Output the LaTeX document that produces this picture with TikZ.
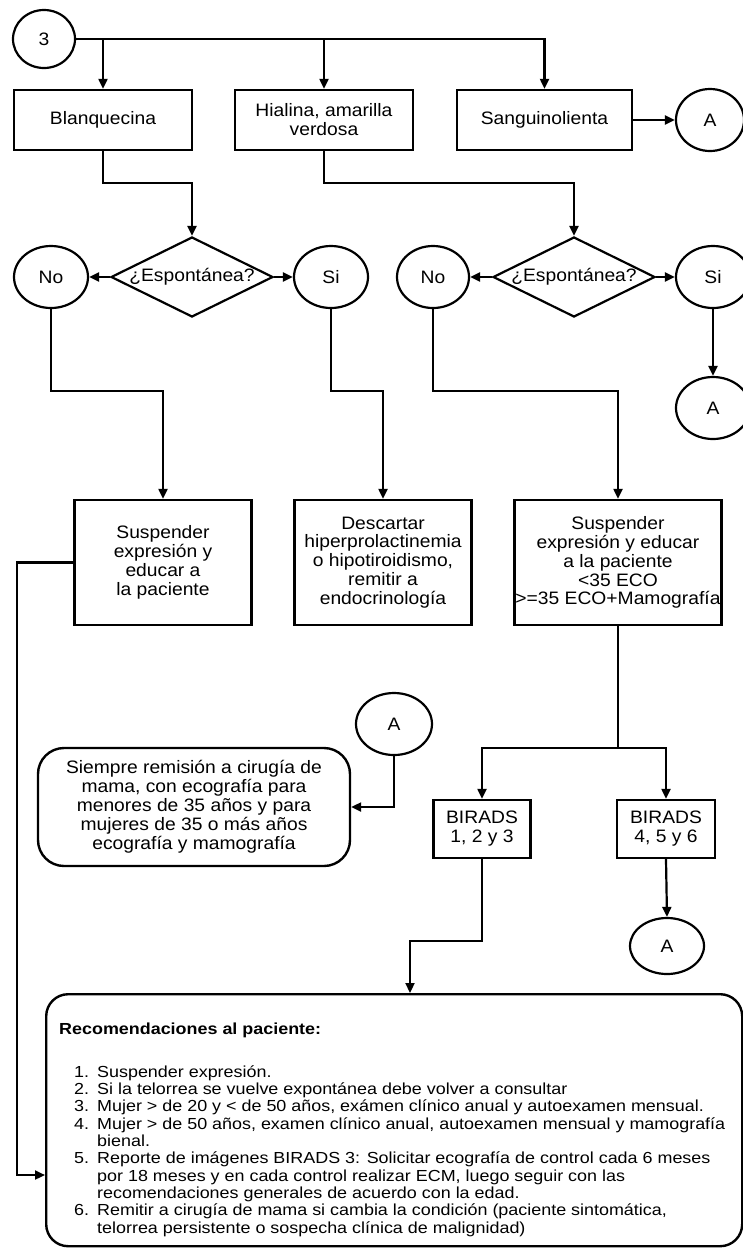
\documentclass[tikz,border=0pt]{standalone}
\usepackage{fontspec}
\setmainfont{Liberation Sans}[FakeStretch=1.07]
\newfontfamily\listfont{Liberation Sans}[FakeStretch=1.12]
\usetikzlibrary{shapes.geometric,arrows.meta}

\begin{document}
\begin{tikzpicture}[x=1pt,y=-1pt,
  every node/.style={inner sep=0pt, align=center, font=\fontsize{18}{18.9}\selectfont},
  bx/.style 2 args={draw, line width=2.4pt, minimum width=#1, minimum height=#2},
  badge/.style 2 args={ellipse, draw, line width=2.2pt, minimum width=#1, minimum height=#2},
  choice/.style={diamond, draw, line width=2.2pt, minimum width=162pt, minimum height=80pt},
  wire/.style={line width=2.2pt},
  arr/.style={wire, -{Triangle[length=10pt,width=9pt]}}
]
\useasboundingbox (0,0) rectangle (743,1254);
\fill[white] (0,0) rectangle (743,1254);

% first level: type of discharge
\node[badge={62pt}{58pt}] (c3) at (44,39) {3};
\node[bx={178pt}{60pt}] (b1) at (103,120) {Blanquecina};
\node[bx={178pt}{60pt}] (b2) at (324,120) {Hialina, amarilla\\verdosa};
\node[bx={175pt}{60pt}] (b3) at (544.5,120) {Sanguinolienta};
\node[badge={68pt}{62pt}] (a1) at (710,120) {A};

% spontaneous or not
\node[choice, label={center:¿Espontánea?}] (d1) at (192,277) {};
\node[badge={74pt}{62pt}] (n1) at (51,277) {No};
\node[badge={74pt}{62pt}] (y1) at (331,277) {Si};
\node[choice, label={center:¿Espontánea?}] (d2) at (574,277) {};
\node[badge={72pt}{62pt}] (n2) at (433,277) {No};
\node[badge={74pt}{62pt}] (y2) at (713,277) {Si};
\node[badge={74pt}{62pt}] (a2) at (713,408) {A};

% actions
\node[bx={177pt}{125pt}] (s1) at (163,562.5) {Suspender\\expresión y\\educar a\\la paciente};
\node[bx={177pt}{125pt}] (s2) at (383,562.5) {Descartar\\hiperprolactinemia\\o hipotiroidismo,\\remitir a\\endocrinología};
\node[bx={207pt}{125pt}] (s3) at (618,562.5) {Suspender\\expresión y educar\\a la paciente\\<35 ECO\\>=35 ECO+Mamografía};

% imaging results
\node[badge={76pt}{62pt}] (a3) at (394,724) {A};
\node[draw, line width=2.4pt, rounded corners=26pt, minimum width=312pt, minimum height=118pt] (r1) at (194,807)
  {Siempre remisión a cirugía de\\mama, con ecografía para\\menores de 35 años y para\\mujeres de 35 o más años\\ecografía y mamografía};
\node[bx={97pt}{58pt}] (i1) at (482,829) {BIRADS\\1, 2 y 3};
\node[bx={98pt}{58pt}] (i2) at (666,829) {BIRADS\\4, 5 y 6};
\node[badge={74pt}{56pt}] (a4) at (667,946) {A};

% recommendations
\node[draw, line width=2.4pt, rounded corners=22pt, minimum width=696pt, minimum height=252pt, anchor=north west] (rec) at (45,993) {};
\node[anchor=base west, font=\listfont\bfseries\fontsize{16}{17}\selectfont] (rt) at (59,1034) {Recomendaciones al paciente:};
\node[anchor=north west, align=left, font=\listfont\fontsize{16}{17.3}\selectfont] (rl) at (74,1065) {%
\begin{tabular}{@{}p{23pt}@{}l@{}}
1. & Suspender expresión.\\
2. & Si la telorrea se vuelve expontánea debe volver a consultar\\
3. & Mujer > de 20 y < de 50 años, exámen clínico anual y autoexamen mensual.\\
4. & Mujer > de 50 años, examen clínico anual, autoexamen mensual y mamografía\\
   & bienal.\\
5. & Reporte de imágenes BIRADS 3: Solicitar ecografía de control cada 6 meses\\
   & por 18 meses y en cada control realizar ECM, luego seguir con las\\
   & recomendaciones generales de acuerdo con la edad.\\
6. & Remitir a cirugía de mama si cambia la condición (paciente sintomática,\\
   & telorrea persistente o sospecha clínica de malignidad)
\end{tabular}};

% connectors
\draw[arr] (c3.east) -| (b3.north);
\draw[arr] (c3.east -| b1.north) -- (b1.north);
\draw[arr] (c3.east -| b2.north) -- (b2.north);
\draw[arr] (b3.east) -- (a1.west);

\coordinate (j1) at (192,183);
\coordinate (j2) at (574,183);
\draw[arr] (b1.south) |- (j1) -- (d1.north);
\draw[arr] (b2.south) |- (j2) -- (d2.north);

\draw[arr] (d1.west) -- (n1.east);
\draw[arr] (d1.east) -- (y1.west);
\draw[arr] (d2.west) -- (n2.east);
\draw[arr] (d2.east) -- (y2.west);
\draw[arr] (y2.south) -- (a2.north);

\coordinate (j3) at (163,391);
\coordinate (j4) at (383,391);
\coordinate (j5) at (618,391);
\draw[arr] (n1.south) |- (j3) -- (s1.north);
\draw[arr] (y1.south) |- (j4) -- (s2.north);
\draw[arr] (n2.south) |- (j5) -- (s3.north);

\coordinate (j6) at (618,748);
\draw[wire] (s3.south) -- (j6);
\draw[arr] (j6) -| (i1.north);
\draw[arr] (j6) -| (i2.north);

\draw[arr] (a3.south) |- (r1.east);

\coordinate (j7) at (410,941);
\draw[arr] (i1.south) |- (j7) -- (j7 |- rec.north);
\draw[arr] (i2.south) -- (a4.north);

\coordinate (j8) at (17,1175);
\draw[arr] (s1.west) -| (j8) -- (j8 -| rec.west);
\end{tikzpicture}
\end{document}
